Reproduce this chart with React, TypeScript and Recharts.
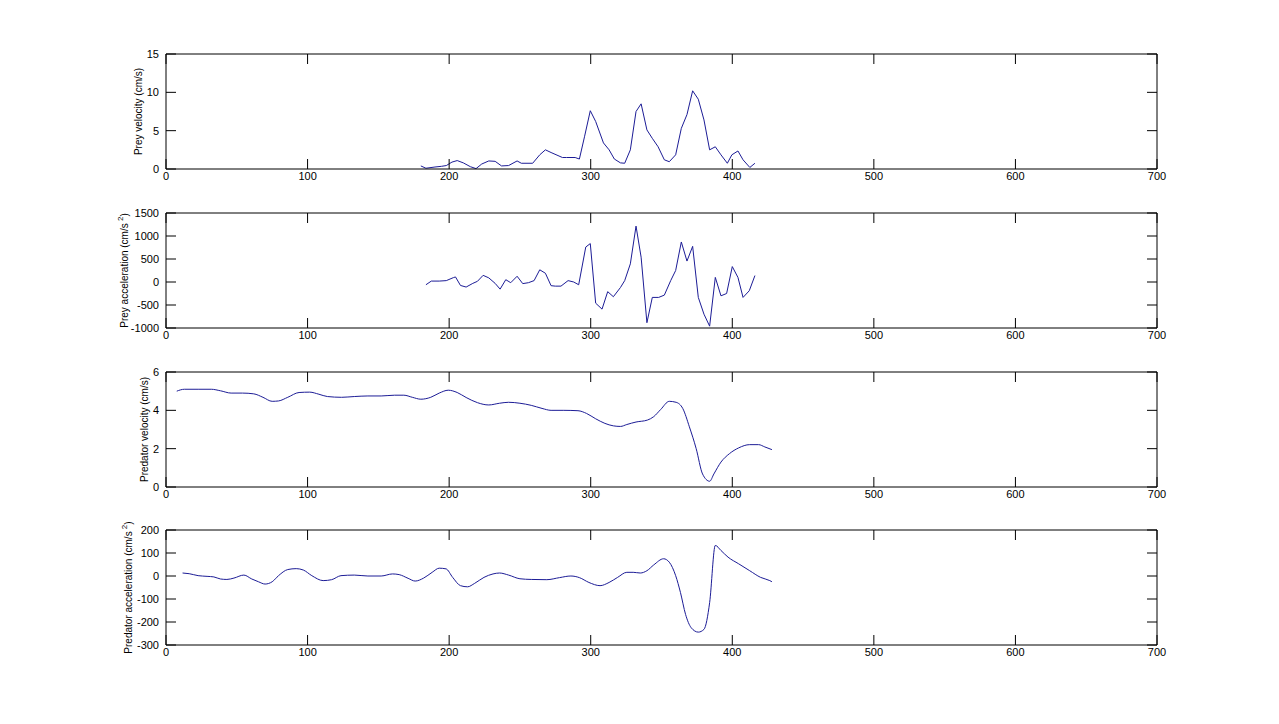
import React from "react";
import { LineChart, Line, XAxis, YAxis } from "recharts";

// time axis (frames) and the four traces
const xTicks = [0, 100, 200, 300, 400, 500, 600, 700];

const preyVelT = [180, 183.6, 190, 194.6, 198, 202, 205.7, 210, 215, 219, 223, 228, 232.5, 237, 242, 248, 251, 259, 264, 268, 272, 280, 283, 289, 292, 295.6, 299.7, 303.5, 309, 313, 316.7, 321, 324, 328, 332, 335.6, 339.7, 343.5, 347.6, 352, 355.5, 360, 364, 368, 372, 376, 380, 384, 388, 392, 396.5, 399.7, 404, 407.6, 412.4, 416];
const preyVel = [0.4, 0.1, 0.26, 0.35, 0.45, 0.9, 1.1, 0.8, 0.3, 0.05, 0.65, 1.05, 1.0, 0.4, 0.45, 1.05, 0.75, 0.75, 1.85, 2.5, 2.15, 1.5, 1.5, 1.5, 1.3, 4.2, 7.6, 6.2, 3.4, 2.5, 1.3, 0.8, 0.75, 2.5, 7.5, 8.5, 5.1, 4.0, 2.9, 1.2, 0.95, 1.85, 5.3, 7.1, 10.2, 9.1, 6.4, 2.5, 2.9, 1.85, 0.75, 1.85, 2.35, 1.2, 0.2, 0.75];
const preyVelTicks = [0, 5, 10, 15];

const preyAccT = [183.6, 187.4, 193, 198, 203, 204.5, 208, 212, 216.7, 220, 224, 228, 232.5, 236, 240, 243.5, 248, 252, 256, 260, 264, 268, 272, 275, 279, 284, 288, 291.5, 296.5, 299.7, 303.5, 308, 312, 316, 321, 324, 328, 332, 335.6, 339.7, 343.5, 348, 352, 356.5, 360, 364, 368, 372, 376, 380, 384, 388, 392, 396, 400, 404, 407.6, 412, 416];
const preyAcc = [-60, 20, 20, 30, 95, 110, -75, -110, -30, 15, 145, 90, -30, -155, 50, -15, 125, -35, -15, 30, 265, 190, -80, -90, -90, 30, 0, -60, 760, 835, -460, -590, -210, -320, -120, 30, 395, 1215, 540, -885, -335, -335, -285, 30, 250, 870, 455, 775, -335, -700, -960, 100, -300, -250, 335, 100, -335, -190, 140];
const preyAccTicks = [-1000, -500, 0, 500, 1000, 1500];

const predVelT = [7.6, 13, 22.7, 32, 38.5, 46, 54, 62, 68.5, 75, 79.5, 86, 94, 101.5, 108, 114, 124, 133, 142.6, 152, 161.5, 168, 174, 180, 187, 193, 199.4, 205.7, 212, 220, 228, 235.6, 242, 250, 258, 265.6, 272, 281, 291, 297, 303.5, 310, 316, 321, 325.5, 332, 340, 344.5, 349.5, 355.5, 360.3, 365, 369.7, 374.5, 379, 384, 387, 392, 398, 404.5, 412.3, 418.6, 423, 428];
const predVel = [5.0, 5.1, 5.1, 5.1, 5.02, 4.9, 4.9, 4.86, 4.68, 4.47, 4.49, 4.68, 4.93, 4.95, 4.84, 4.72, 4.68, 4.72, 4.75, 4.75, 4.79, 4.79, 4.68, 4.58, 4.68, 4.9, 5.05, 4.93, 4.67, 4.4, 4.28, 4.37, 4.42, 4.37, 4.26, 4.1, 4.0, 4.0, 3.98, 3.84, 3.56, 3.32, 3.19, 3.16, 3.26, 3.39, 3.49, 3.67, 4.05, 4.47, 4.42, 4.1, 3.14, 2.0, 0.68, 0.3, 0.68, 1.3, 1.74, 2.04, 2.21, 2.21, 2.09, 1.95];
const predVelTicks = [0, 2, 4, 6];

const predAccT = [11.7, 16.4, 22.7, 29, 33.8, 38.5, 43, 48, 55, 60.6, 65.3, 70, 75, 79.5, 86, 92, 97, 103, 111, 117, 123.6, 133, 142.6, 152, 160, 164.7, 171, 176, 182, 188, 193, 197.8, 202.5, 208, 213, 218, 224.6, 231, 235.6, 242, 250, 258, 269, 278, 286, 292, 298.7, 306.6, 313, 319, 325.5, 330, 335, 339.7, 344.5, 351.5, 355.5, 360, 363.4, 367, 371, 376, 380, 384, 388, 392, 397, 404.5, 412.3, 420, 426.5, 428];
const predAcc = [13, 10, 1.5, -1.5, -4, -13, -15, -9, 4, -13, -25, -35, -25, 1.5, 28, 32, 26, 1.5, -20, -16, 1.5, 4, 0, 0, 9, 6, -10, -22, -9, 16, 34, 31, -6, -42, -47, -32, -6, 9, 13, 4, -12, -15, -16, -7, 0, -7, -28, -42, -28, -6, 16, 16, 13, 23, 48, 75, 60, 1.5, -72, -167, -225, -244, -232, -116, 133, 111, 82, 53, 23, -6, -20, -25];
const predAccTicks = [-300, -200, -100, 0, 100, 200];

const toRows = (t: number[], v: number[]) => t.map((x, i) => ({ t: x, v: v[i] }));

const FONT = "'Liberation Sans', Arial, sans-serif";
const LINE = "#1c1c96";

type Panel = {
  top: number;
  rows: { t: number; v: number }[];
  ticks: number[];
  label: string;
  sup: boolean;
  labelX: number;
  smooth: boolean;
};

const panels: Panel[] = [
  { top: 54, rows: toRows(preyVelT, preyVel), ticks: preyVelTicks, label: "Prey velocity (cm/s)", sup: false, labelX: 139, smooth: false },
  { top: 213, rows: toRows(preyAccT, preyAcc), ticks: preyAccTicks, label: "Prey acceleration  (cm/s", sup: true, labelX: 125, smooth: false },
  { top: 372, rows: toRows(predVelT, predVel), ticks: predVelTicks, label: "Predator velocity (cm/s)", sup: false, labelX: 145, smooth: true },
  { top: 530, rows: toRows(predAccT, predAcc), ticks: predAccTicks, label: "Predator acceleration  (cm/s", sup: true, labelX: 129, smooth: true },
];

const PLOT_H = 115;
const tickStyle = { fill: "#000", fontSize: 11, fontFamily: FONT };
// top/right axes keep their tick marks but show no numbers
const noLabel = () => <g />;

const PanelChart = ({ p }: { p: Panel }) => {
  const dom = [p.ticks[0], p.ticks[p.ticks.length - 1]];
  return (
    <div style={{ position: "absolute", left: 0, top: p.top - 10 }}>
      <LineChart width={1279} height={PLOT_H + 40} data={p.rows} margin={{ top: 9, right: 121, bottom: 10, left: 116 }}>
        <XAxis xAxisId="b" type="number" dataKey="t" domain={[0, 700]} ticks={xTicks} interval={0}
          tickSize={-10} tickMargin={13} height={20} stroke="#000" tick={tickStyle} allowDataOverflow />
        <XAxis xAxisId="top" orientation="top" type="number" dataKey="t" domain={[0, 700]} ticks={xTicks} interval={0}
          tickSize={-10} height={1} stroke="#000" tick={noLabel} allowDataOverflow />
        <YAxis yAxisId="l" type="number" domain={dom} ticks={p.ticks} interval={0}
          tickSize={-10} tickMargin={17} width={50} stroke="#000" tick={tickStyle} allowDataOverflow />
        <YAxis yAxisId="r" orientation="right" type="number" domain={dom} ticks={p.ticks} interval={0}
          tickSize={-10} width={1} stroke="#000" tick={noLabel} allowDataOverflow />
        {/* invisible copy so the top and right axes of the box get drawn */}
        <Line xAxisId="top" yAxisId="r" dataKey="v" stroke="none" dot={false} activeDot={false} isAnimationActive={false} />
        <Line xAxisId="b" yAxisId="l" dataKey="v" type={p.smooth ? "monotone" : "linear"} stroke={LINE}
          strokeWidth={1} dot={false} isAnimationActive={false} />
      </LineChart>
      <svg width={60} height={PLOT_H + 40} style={{ position: "absolute", left: 100, top: 0 }}>
        <text transform={`translate(${p.labelX - 100 + 3}, ${10 + PLOT_H / 2}) rotate(-90)`} textAnchor="middle"
          fontSize={10} fontFamily={FONT} fill="#000">
          {p.label}
          {p.sup && (
            <>
              <tspan dy={-5} fontSize={8}>{"  2"}</tspan>
              <tspan dy={5}>)</tspan>
            </>
          )}
        </text>
      </svg>
    </div>
  );
};

const App = () => (
  <div style={{ position: "absolute", left: 0, top: 0, width: 1279, height: 724, background: "#fff" }}>
    {panels.map((p, i) => (
      <PanelChart key={i} p={p} />
    ))}
  </div>
);

export default App;
